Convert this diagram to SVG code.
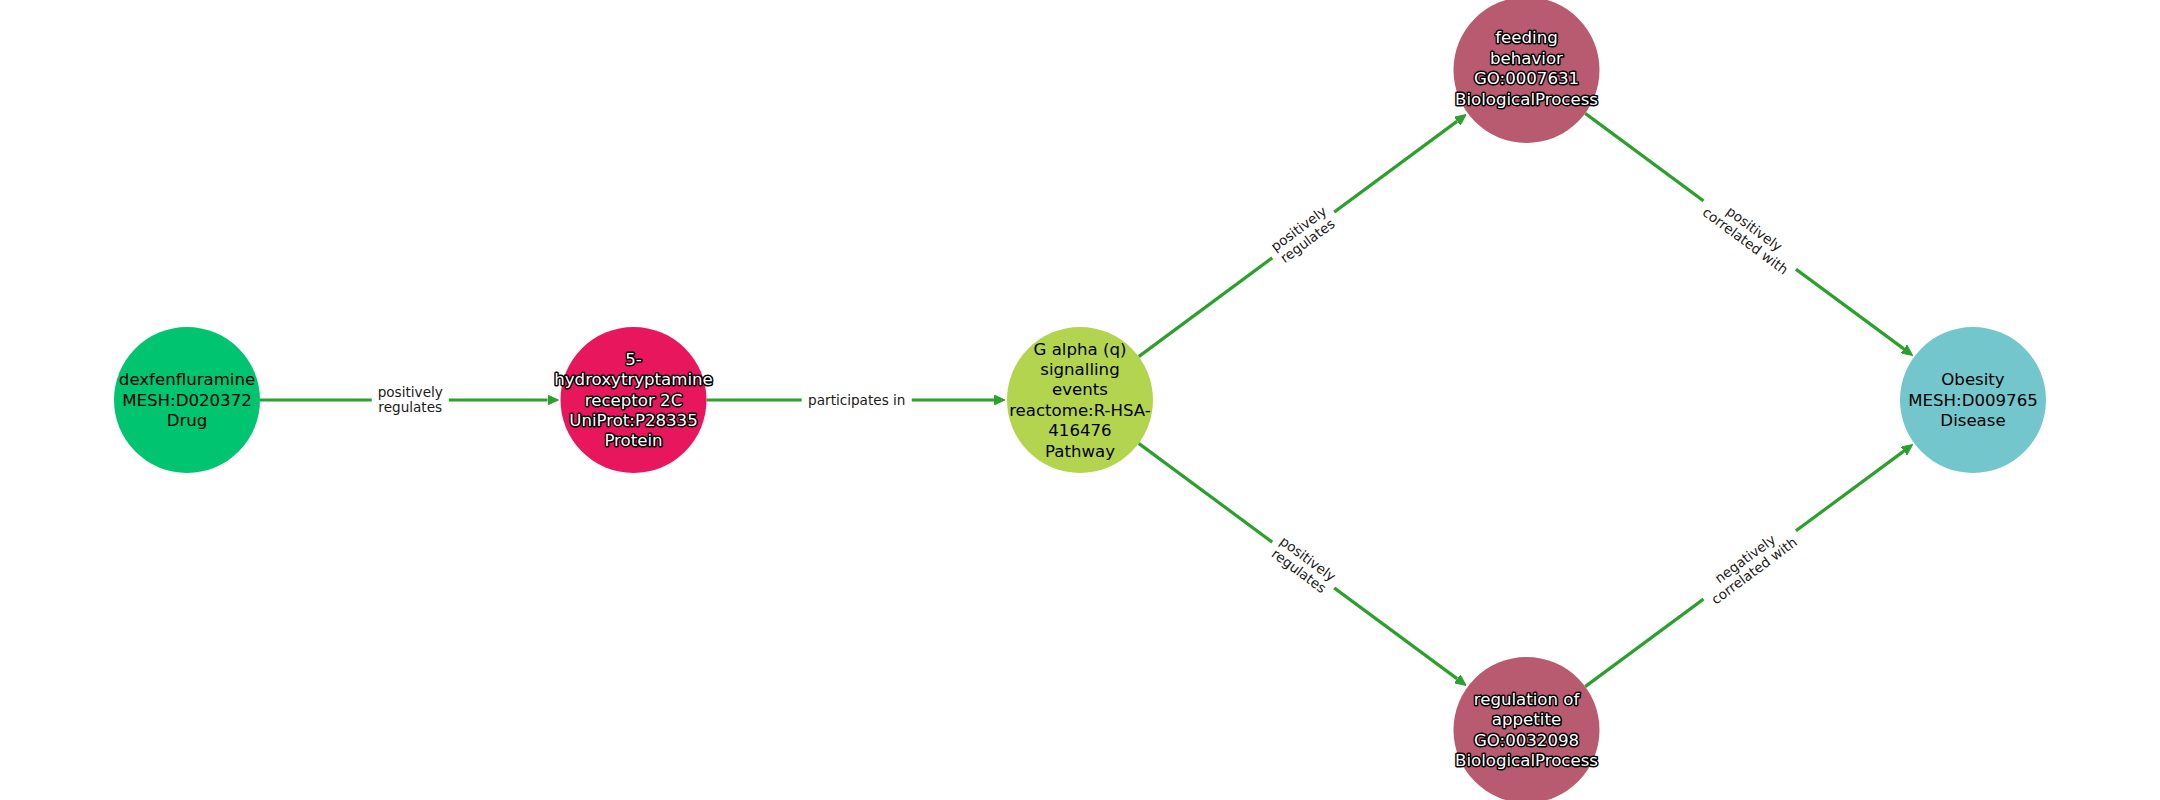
<svg xmlns="http://www.w3.org/2000/svg" width="2160" height="800" viewBox="0 0 2160 800">
<style>
.edge{fill:none;stroke:#2ca02c;stroke-width:3.2;marker-end:url(#arrow)}
.nt{font-family:"DejaVu Sans",sans-serif;font-size:16.6px;text-anchor:middle;fill:#000}
.ot{fill:#fff;stroke:#000;stroke-width:3;stroke-linejoin:round;paint-order:stroke}
.el{font-family:"DejaVu Sans",sans-serif;font-size:13.6px;text-anchor:middle;fill:#1a1a1a}
.lb{fill:#fff;stroke:none}
</style>
<defs>
<marker id="arrow" viewBox="0 0 11 10" refX="0" refY="5" markerWidth="11" markerHeight="10" markerUnits="userSpaceOnUse" orient="auto">
<path d="M0,0 L11,5 L0,10 Z" fill="#2ca02c" stroke="#2ca02c" stroke-width="1" stroke-linejoin="round"/>
</marker>
</defs>
<rect width="2160" height="800" fill="#fff"/>
<g id="connectors">
<path class="edge" d="M260,400 L547.5,400"/>
<path class="edge" d="M706.5,400 L994,400"/>
<path class="edge" d="M1138.7,356.6 L1457.3,121.1"/>
<path class="edge" d="M1138.7,443.4 L1457.3,678.9"/>
<path class="edge" d="M1585.2,113.4 L1903.8,348.9"/>
<path class="edge" d="M1585.2,686.6 L1903.8,451.1"/>
<g transform="translate(410.25,399.5)"><rect class="lb" x="-38.5" y="-19" width="77" height="38" rx="3"/><text class="el"><tspan x="0" y="-3">positively</tspan><tspan x="0" y="12">regulates</tspan></text></g>
<g transform="translate(856.75,400)"><rect class="lb" x="-55" y="-12" width="110" height="24" rx="3"/><text class="el" x="0" y="4.5">participates in</text></g>
<g transform="translate(1303.25,235) rotate(-36.47)"><rect class="lb" x="-38.5" y="-19" width="77" height="38" rx="3"/><text class="el"><tspan x="0" y="-3">positively</tspan><tspan x="0" y="12">regulates</tspan></text></g>
<g transform="translate(1303.25,565) rotate(36.47)"><rect class="lb" x="-38.5" y="-19" width="77" height="38" rx="3"/><text class="el"><tspan x="0" y="-3">positively</tspan><tspan x="0" y="12">regulates</tspan></text></g>
<g transform="translate(1749.75,235) rotate(36.47)"><rect class="lb" x="-57.5" y="-19" width="115" height="38" rx="3"/><text class="el"><tspan x="0" y="-3">positively</tspan><tspan x="0" y="12">correlated with</tspan></text></g>
<g transform="translate(1749.75,565) rotate(-36.47)"><rect class="lb" x="-57.5" y="-19" width="115" height="38" rx="3"/><text class="el"><tspan x="0" y="-3">negatively</tspan><tspan x="0" y="12">correlated with</tspan></text></g>
</g>
<g id="node-dexfenfluramine">
<circle cx="187" cy="400" r="73" fill="#00c46f"/>
<text class="nt"><tspan x="187" y="385.1">dexfenfluramine</tspan><tspan x="187" y="405.5">MESH:D020372</tspan><tspan x="187" y="425.9">Drug</tspan></text>
</g>
<g id="node-htr2c">
<circle cx="633.5" cy="400" r="73" fill="#e8175d"/>
<text class="nt ot"><tspan x="633.5" y="364.7">5-</tspan><tspan x="633.5" y="385.1">hydroxytryptamine</tspan><tspan x="633.5" y="405.5">receptor 2C</tspan><tspan x="633.5" y="425.9">UniProt:P28335</tspan><tspan x="633.5" y="446.3">Protein</tspan></text>
</g>
<g id="node-galphaq">
<circle cx="1080" cy="400" r="73" fill="#b3d44f"/>
<text class="nt"><tspan x="1080" y="354.5">G alpha (q)</tspan><tspan x="1080" y="374.9">signalling</tspan><tspan x="1080" y="395.3">events</tspan><tspan x="1080" y="415.7">reactome:R-HSA-</tspan><tspan x="1080" y="436.1">416476</tspan><tspan x="1080" y="456.5">Pathway</tspan></text>
</g>
<g id="node-feeding">
<circle cx="1526.5" cy="70" r="73" fill="#b85a70"/>
<text class="nt ot"><tspan x="1526.5" y="43.4">feeding</tspan><tspan x="1526.5" y="63.8">behavior</tspan><tspan x="1526.5" y="84.2">GO:0007631</tspan><tspan x="1526.5" y="104.6">BiologicalProcess</tspan></text>
</g>
<g id="node-appetite">
<circle cx="1526.5" cy="730" r="73" fill="#b85a70"/>
<text class="nt ot"><tspan x="1526.5" y="704.9">regulation of</tspan><tspan x="1526.5" y="725.3">appetite</tspan><tspan x="1526.5" y="745.7">GO:0032098</tspan><tspan x="1526.5" y="766.1">BiologicalProcess</tspan></text>
</g>
<g id="node-obesity">
<circle cx="1973" cy="400" r="73" fill="#73c6cb"/>
<text class="nt"><tspan x="1973" y="385.1">Obesity</tspan><tspan x="1973" y="405.5">MESH:D009765</tspan><tspan x="1973" y="425.9">Disease</tspan></text>
</g>
</svg>
